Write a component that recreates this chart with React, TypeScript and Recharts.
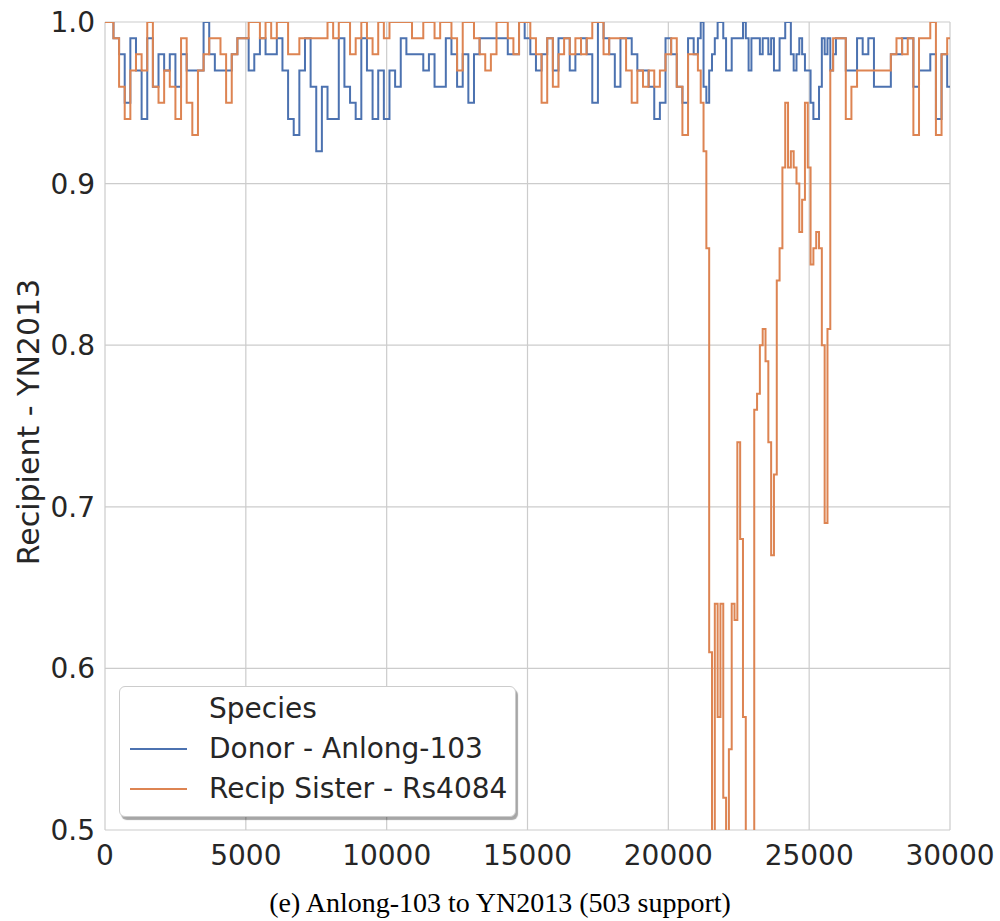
import { LineChart, Line, XAxis, YAxis, CartesianGrid } from 'recharts';

const BLUE = '#4c72b0';
const ORANGE = '#dd8452';
const GRID = '#cccccc';
const INK = '#262626';

// Window start positions (bp). Finer spacing through the recombinant dip.
const positions = [
  0, 200, 400, 600, 800, 1000, 1200, 1400, 1600, 1800,
  2000, 2200, 2400, 2600, 2800, 3000, 3200, 3400, 3600, 3800,
  4000, 4200, 4400, 4600, 4800, 5000, 5200, 5400, 5600, 5800,
  6000, 6200, 6400, 6600, 6800, 7000, 7200, 7400, 7600, 7800,
  8000, 8200, 8400, 8600, 8800, 9000, 9200, 9400, 9600, 9800,
  10000, 10200, 10400, 10600, 10800, 11000, 11200, 11400, 11600, 11800,
  12000, 12200, 12400, 12600, 12800, 13000, 13200, 13400, 13600, 13800,
  14000, 14200, 14400, 14600, 14800, 15000, 15200, 15400, 15600, 15800,
  16000, 16200, 16400, 16600, 16800, 17000, 17200, 17400, 17600, 17800,
  18000, 18200, 18400, 18600, 18800, 19000, 19200, 19400, 19600, 19800,
  20000, 20200, 20400, 20600, 20800, 21000,
  21100, 21200, 21300, 21400, 21500, 21600, 21700, 21800, 21900,
  22000, 22100, 22200, 22300, 22400, 22500, 22600, 22700, 22800, 22900,
  23000, 23100, 23200, 23300, 23400, 23500, 23600, 23700, 23800, 23900,
  24000, 24100, 24200, 24300, 24400, 24500, 24600, 24700, 24800, 24900,
  25000, 25100, 25200, 25300, 25400, 25500, 25600, 25700, 25800, 25900,
  26000,
  26200, 26400, 26600, 26800, 27000, 27200, 27400, 27600, 27800, 28000,
  28200, 28400, 28600, 28800, 29000, 29200, 29400, 29600, 29800, 30000,
];

// Donor - Anlong-103
const donor = [
  1.0, 1.0, 0.99, 0.98, 0.95, 0.99, 0.97, 0.94, 0.99, 0.96,
  0.98, 0.97, 0.98, 0.96, 0.98, 0.97, 0.97, 0.97, 1.0, 0.98,
  0.97, 0.97, 0.97, 0.98, 0.99, 0.99, 0.97, 0.98, 0.99, 0.98,
  0.98, 0.99, 0.97, 0.94, 0.93, 0.97, 0.99, 0.96, 0.92, 0.96,
  0.94, 0.94, 0.99, 0.96, 0.95, 0.94, 0.99, 0.97, 0.94, 0.97,
  0.94, 0.97, 0.96, 0.99, 0.98, 0.98, 0.98, 0.97, 0.98, 0.96,
  0.96, 0.99, 0.98, 0.96, 0.98, 0.95, 0.98, 0.99, 0.99, 0.99,
  0.99, 0.99, 0.98, 0.98, 1.0, 0.99, 0.98, 0.97, 0.98, 0.99,
  0.97, 0.99, 0.99, 0.97, 0.98, 0.99, 0.98, 0.95, 1.0, 0.99,
  0.98, 0.96, 0.99, 0.99, 0.98, 0.97, 0.97, 0.96, 0.94, 0.95,
  0.99, 0.98, 0.96, 0.95, 0.99, 0.98,
  0.99, 1.0, 0.96, 0.95, 0.97, 0.98, 0.99, 1.0, 1.0,
  0.99, 0.97, 0.97, 0.99, 0.99, 0.99, 0.99, 1.0, 0.99, 0.97,
  0.99, 0.99, 0.99, 0.98, 0.99, 0.99, 0.98, 0.99, 0.97, 0.97,
  0.99, 0.99, 1.0, 1.0, 0.98, 0.97, 0.98, 0.99, 0.98, 0.97,
  0.97, 0.95, 0.94, 0.94, 0.96, 0.99, 0.98, 0.99, 0.97, 0.98,
  0.99,
  0.99, 0.97, 0.97, 0.99, 0.98, 0.99, 0.96, 0.96, 0.96, 0.98,
  0.98, 0.99, 0.99, 0.96, 0.97, 0.97, 0.98, 0.94, 0.98, 0.96,
];

// Recip Sister - Rs4084
const recipSister = [
  1.0, 1.0, 0.99, 0.96, 0.94, 0.97, 0.98, 0.97, 1.0, 0.96,
  0.95, 0.97, 0.96, 0.94, 0.99, 0.95, 0.93, 0.97, 0.98, 0.99,
  0.99, 0.98, 0.95, 0.98, 0.99, 0.99, 1.0, 1.0, 0.99, 1.0,
  0.99, 1.0, 1.0, 0.98, 0.98, 0.99, 0.99, 0.99, 0.99, 0.99,
  1.0, 0.99, 1.0, 1.0, 0.98, 0.99, 1.0, 0.99, 0.98, 1.0,
  0.99, 1.0, 1.0, 1.0, 1.0, 0.99, 0.99, 1.0, 1.0, 0.99,
  1.0, 1.0, 0.99, 0.97, 1.0, 1.0, 0.99, 0.98, 0.97, 0.98,
  1.0, 1.0, 0.99, 0.98, 1.0, 1.0, 0.99, 0.98, 0.95, 0.99,
  0.96, 0.98, 0.99, 0.98, 0.99, 0.98, 0.99, 1.0, 1.0, 0.98,
  0.99, 0.99, 0.99, 0.97, 0.95, 0.97, 0.96, 0.97, 0.96, 0.97,
  0.98, 0.99, 0.96, 0.93, 0.98, 0.98,
  0.97, 0.95, 0.92, 0.86, 0.61, 0.49, 0.64, 0.57, 0.64,
  0.52, 0.49, 0.55, 0.64, 0.63, 0.74, 0.68, 0.57, 0.49, 0.49,
  0.49, 0.76, 0.77, 0.8, 0.81, 0.79, 0.74, 0.67, 0.72, 0.84,
  0.86, 0.91, 0.95, 0.91, 0.92, 0.91, 0.9, 0.87, 0.89, 0.95,
  0.91, 0.85, 0.86, 0.87, 0.86, 0.8, 0.69, 0.81, 0.97, 0.99,
  0.99,
  0.99, 0.94, 0.96, 0.97, 0.97, 0.97, 0.97, 0.97, 0.97, 0.98,
  0.99, 0.98, 0.99, 0.93, 0.99, 0.99, 1.0, 0.93, 0.98, 0.99,
];

const xTicks = [0, 5000, 10000, 15000, 20000, 25000, 30000];
const yTicks = [0.5, 0.6, 0.7, 0.8, 0.9, 1.0];

const series = [
  { key: 'donor', name: 'Donor - Anlong-103', color: BLUE },
  { key: 'sister', name: 'Recip Sister - Rs4084', color: ORANGE },
];

const data = positions.map((pos, i) => ({
  pos,
  donor: donor[i],
  sister: recipSister[i],
}));

function YLabel(props: any) {
  const vb = props.viewBox;
  const cx = 28;
  const cy = vb.y + vb.height / 2 - 4;
  return (
    <text
      x={cx}
      y={cy}
      transform={`rotate(-90, ${cx}, ${cy})`}
      textAnchor="middle"
      dominantBaseline="central"
      fill={INK}
      fontSize={30}
    >
      Recipient - YN2013
    </text>
  );
}

export default function App() {
  return (
    <div
      style={{
        position: 'absolute',
        left: 0,
        top: 0,
        width: 1000,
        height: 921,
        background: '#fff',
        fontFamily: "'DejaVu Sans', sans-serif",
      }}
    >
      <LineChart
        width={1000}
        height={921}
        data={data}
        margin={{ top: 22, right: 50, bottom: 0, left: 0 }}
      >
        <CartesianGrid stroke={GRID} strokeWidth={1.2} />
        <XAxis
          dataKey="pos"
          type="number"
          domain={[0, 30000]}
          ticks={xTicks}
          interval={0}
          height={91}
          axisLine={false}
          tickLine={false}
          tickSize={6}
          tickMargin={9}
          tick={{ fill: INK, fontSize: 28 }}
          allowDataOverflow
        />
        <YAxis
          type="number"
          domain={[0.5, 1]}
          ticks={yTicks}
          interval={0}
          width={105}
          axisLine={false}
          tickLine={false}
          tickSize={6}
          tickMargin={4}
          tick={{ fill: INK, fontSize: 28 }}
          tickFormatter={(v: number) => v.toFixed(1)}
          allowDataOverflow
          label={{ content: YLabel }}
        />
        {series.map((s) => (
          <Line
            key={s.key}
            type="step"
            dataKey={s.key}
            name={s.name}
            stroke={s.color}
            strokeWidth={2}
            dot={false}
            isAnimationActive={false}
          />
        ))}
      </LineChart>

      {/* Seaborn-style legend: title row plus one row per series */}
      <div
        style={{
          position: 'absolute',
          left: 119,
          top: 686,
          width: 397,
          height: 131,
          border: '1px solid #cccccc',
          borderRadius: 6,
          background: '#fff',
          boxShadow: '2px 3px 1px rgba(0,0,0,0.35)',
          boxSizing: 'border-box',
          color: INK,
          fontSize: 28,
        }}
      >
        <div style={{ position: 'absolute', left: 89, top: 4, lineHeight: '36px' }}>Species</div>
        {series.map((s, i) => (
          <div key={s.key}>
            <div
              style={{
                position: 'absolute',
                left: 10,
                top: 61 + i * 40,
                width: 57,
                height: 2,
                background: s.color,
              }}
            />
            <div style={{ position: 'absolute', left: 89, top: 44 + i * 40, lineHeight: '36px', whiteSpace: 'nowrap' }}>
              {s.name}
            </div>
          </div>
        ))}
      </div>

      <div
        style={{
          position: 'absolute',
          left: 0,
          top: 886,
          width: 1000,
          textAlign: 'center',
          fontFamily: "'Liberation Serif', serif",
          fontSize: 28,
          color: '#000',
          lineHeight: '34px',
        }}
      >
        (e) Anlong-103 to YN2013 (503 support)
      </div>
    </div>
  );
}
